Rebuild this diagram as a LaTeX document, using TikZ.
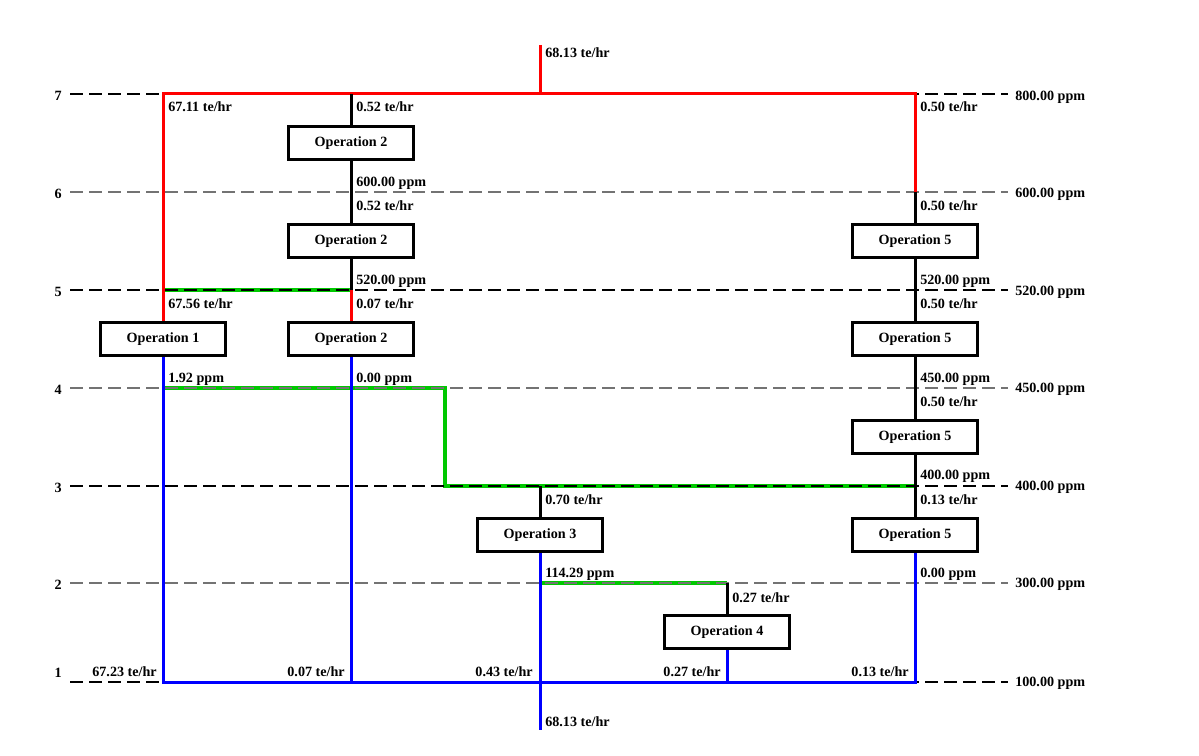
\documentclass[tikz,border=0pt]{standalone}
\usepackage{fontspec}
\setmainfont{Liberation Serif}
\definecolor{pgreen}{RGB}{0,200,0}
\definecolor{pred}{RGB}{255,0,0}
\definecolor{pblue}{RGB}{0,0,255}
\begin{document}
\begin{tikzpicture}[x=0.75pt,y=-0.75pt,
  op/.style={draw=black,line width=2.25pt,fill=white,minimum width=93.75pt,minimum height=24.75pt,inner sep=0pt,font=\fontsize{10.6}{12}\selectfont\bfseries},
  lbl/.style={inner sep=0pt,font=\fontsize{10.6}{12}\selectfont\bfseries},
  flow/.style={line width=2.25pt},
  greenflow/.style={line width=2.6pt,pgreen},
  levdark/.style={line width=0.95pt,dash pattern=on 9.75pt off 4.5pt,black},
  levgray/.style={line width=0.95pt,dash pattern=on 9.75pt off 4.5pt,black!55}]
\useasboundingbox (0,0) rectangle (1199,756);
% coordinates
\coordinate (top) at (540,45);
\coordinate (t7a) at (163,94);
\coordinate (t7b) at (351,94);
\coordinate (t7c) at (540,94);
\coordinate (t7d) at (915,94);
\coordinate (c6) at (915,192);
\coordinate (c5a) at (163,290);
\coordinate (c5b) at (351,290);
\coordinate (c4a) at (163,388);
\coordinate (c4g) at (445,388);
\coordinate (c3g) at (445,486);
\coordinate (c3c) at (540,486);
\coordinate (c3e) at (915,486);
\coordinate (c2c) at (540,583);
\coordinate (c2d) at (727,583);
\coordinate (b1a) at (163,682);
\coordinate (b1b) at (351,682);
\coordinate (b1d) at (727,682);
\coordinate (b1e) at (915,682);
\coordinate (bot) at (540,730);
% level dashed line ends
\coordinate (L7) at (70,94);  \coordinate (R7) at (1008,94);
\coordinate (L6) at (70,192); \coordinate (R6) at (1008,192);
\coordinate (L5) at (70,290); \coordinate (R5) at (1008,290);
\coordinate (L4) at (70,388); \coordinate (R4) at (1008,388);
\coordinate (L3) at (70,486); \coordinate (R3) at (1008,486);
\coordinate (L2) at (70,583); \coordinate (R2) at (1008,583);
\coordinate (L1) at (70,682); \coordinate (R1) at (1008,682);
% green streams (below the level lines)
\draw[greenflow] (c5a) -- (c5b);
\draw[greenflow] (c4a) -- (c4g) -- (c3g) -- (c3e);
\draw[greenflow] (c2c) -- (c2d);
% level lines
\draw[levdark] (L7) -- (R7);
\draw[levgray] (L6) -- (R6);
\draw[levdark] (L5) -- (R5);
\draw[levgray] (L4) -- (R4);
\draw[levdark] (L3) -- (R3);
\draw[levgray] (L2) -- (R2);
\draw[levdark] (L1) -- (R1);
% operations
\node[op] (op2a) at (351,143) {Operation 2};
\node[op] (op2b) at (351,241) {Operation 2};
\node[op] (op2c) at (351,339) {Operation 2};
\node[op] (op1) at (163,339) {Operation 1};
\node[op] (op5a) at (915,241) {Operation 5};
\node[op] (op5b) at (915,339) {Operation 5};
\node[op] (op5c) at (915,437) {Operation 5};
\node[op] (op5d) at (915,535) {Operation 5};
\node[op] (op3) at (540,535) {Operation 3};
\node[op] (op4) at (727,632) {Operation 4};
% red streams
\draw[flow,pred] (op1.north) -- (t7a) -- (t7d) -- (c6);
\draw[flow,pred] (top) -- (t7c);
\draw[flow,pred] (c5b) -- (op2c.north);
% black streams
\draw[flow] (t7b) -- (op2a.north);
\draw[flow] (op2a.south) -- (op2b.north);
\draw[flow] (op2b.south) -- (c5b);
\draw[flow] (c6) -- (op5a.north);
\draw[flow] (op5a.south) -- (op5b.north);
\draw[flow] (op5b.south) -- (op5c.north);
\draw[flow] (op5c.south) -- (op5d.north);
\draw[flow] (c3c) -- (op3.north);
\draw[flow] (c2d) -- (op4.north);
% blue streams
\draw[flow,pblue] (op1.south) -- (b1a) -- (b1e) -- (op5d.south);
\draw[flow,pblue] (op2c.south) -- (b1b);
\draw[flow,pblue] (op3.south) -- (bot);
\draw[flow,pblue] (op4.south) -- (b1d);
% level numbers
\node[lbl,anchor=east] (n7) at (62,96) {7};
\node[lbl,anchor=east] (n6) at (62,194) {6};
\node[lbl,anchor=east] (n5) at (62,292) {5};
\node[lbl,anchor=east] (n4) at (62,390) {4};
\node[lbl,anchor=east] (n3) at (62,488) {3};
\node[lbl,anchor=east] (n2) at (62,585) {2};
\node[lbl,anchor=east] (n1) at (62,673) {1};
% level concentrations
\node[lbl,anchor=west] (p7) at (1015,97) {800.00 ppm};
\node[lbl,anchor=west] (p6) at (1015,194) {600.00 ppm};
\node[lbl,anchor=west] (p5) at (1015,292) {520.00 ppm};
\node[lbl,anchor=west] (p4) at (1015,389) {450.00 ppm};
\node[lbl,anchor=west] (p3) at (1015,487) {400.00 ppm};
\node[lbl,anchor=west] (p2) at (1015,584) {300.00 ppm};
\node[lbl,anchor=west] (p1) at (1015,683) {100.00 ppm};
% stream labels
\node[lbl,anchor=west] (s1) at (545,53) {68.13 te/hr};
\node[lbl,anchor=west] (s2) at (168,107) {67.11 te/hr};
\node[lbl,anchor=west] (s3) at (356,107) {0.52 te/hr};
\node[lbl,anchor=west] (s4) at (920,107) {0.50 te/hr};
\node[lbl,anchor=west] (s5) at (356,183) {600.00 ppm};
\node[lbl,anchor=west] (s6) at (356,206) {0.52 te/hr};
\node[lbl,anchor=west] (s7) at (920,206) {0.50 te/hr};
\node[lbl,anchor=west] (s8) at (356,281) {520.00 ppm};
\node[lbl,anchor=west] (s9) at (920,281) {520.00 ppm};
\node[lbl,anchor=west] (s10) at (168,304) {67.56 te/hr};
\node[lbl,anchor=west] (s11) at (356,304) {0.07 te/hr};
\node[lbl,anchor=west] (s12) at (920,304) {0.50 te/hr};
\node[lbl,anchor=west] (s13) at (168,379) {1.92 ppm};
\node[lbl,anchor=west] (s14) at (356,379) {0.00 ppm};
\node[lbl,anchor=west] (s15) at (920,379) {450.00 ppm};
\node[lbl,anchor=west] (s16) at (920,402) {0.50 te/hr};
\node[lbl,anchor=west] (s17) at (920,476) {400.00 ppm};
\node[lbl,anchor=west] (s18) at (545,500) {0.70 te/hr};
\node[lbl,anchor=west] (s19) at (920,500) {0.13 te/hr};
\node[lbl,anchor=west] (s20) at (545,574) {114.29 ppm};
\node[lbl,anchor=west] (s21) at (920,574) {0.00 ppm};
\node[lbl,anchor=west] (s22) at (732,598) {0.27 te/hr};
\node[lbl,anchor=east] (s23) at (157,672) {67.23 te/hr};
\node[lbl,anchor=east] (s24) at (345,672) {0.07 te/hr};
\node[lbl,anchor=east] (s25) at (533,672) {0.43 te/hr};
\node[lbl,anchor=east] (s26) at (721,672) {0.27 te/hr};
\node[lbl,anchor=east] (s27) at (909,672) {0.13 te/hr};
\node[lbl,anchor=west] (s28) at (545,722) {68.13 te/hr};
\end{tikzpicture}
\end{document}
